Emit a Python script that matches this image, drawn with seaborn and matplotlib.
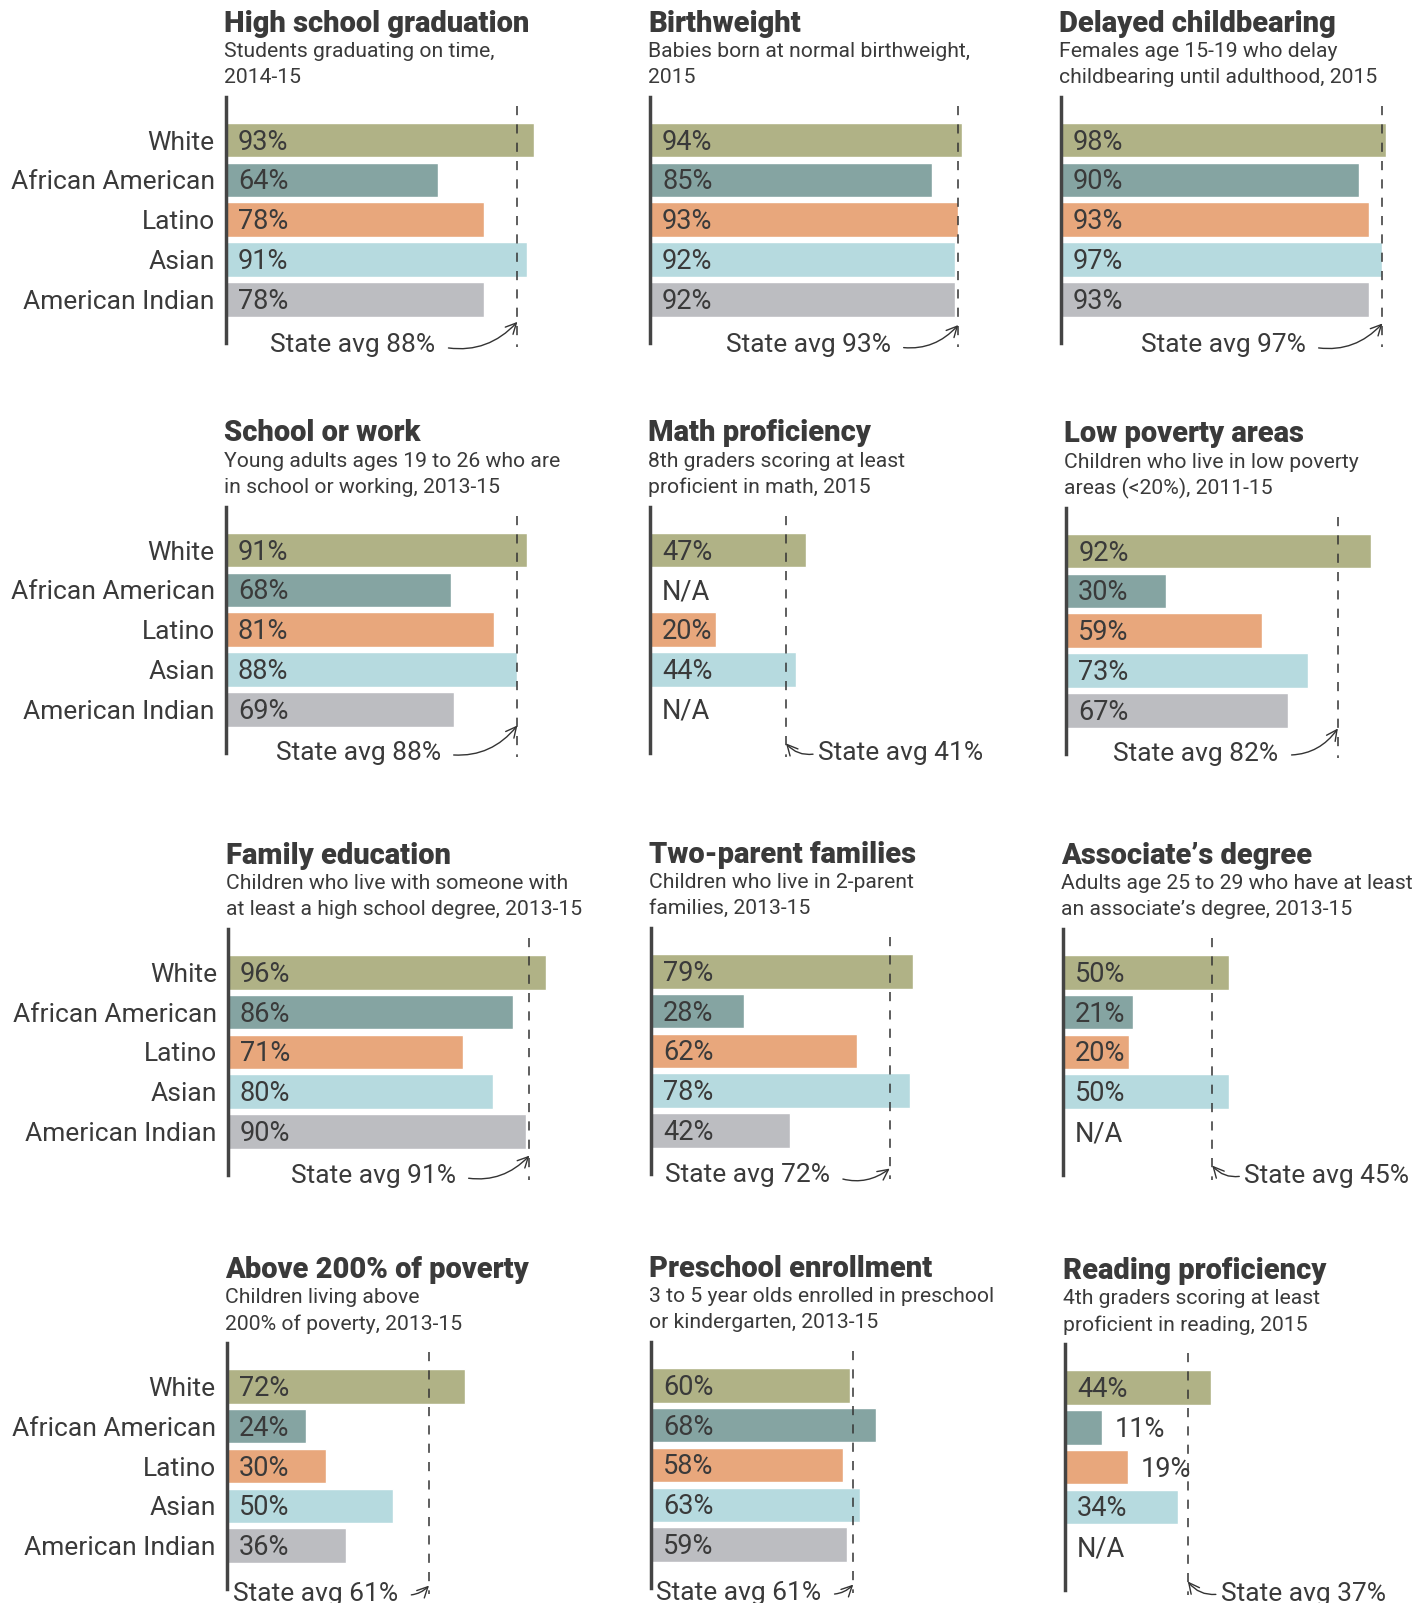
import numpy as np
import pandas as pd
import seaborn as sns
import matplotlib.pyplot as plt

sns.set_theme(style="white")
plt.rcParams['font.family'] = ['Roboto', 'DejaVu Sans']

groups = ['White', 'African American', 'Latino', 'Asian', 'American Indian']
colors = ['#b0b286', '#85a4a2', '#e8a77c', '#b6dadf', '#bcbdc1']

titles = ['High school graduation', 'Birthweight', 'Delayed childbearing',
          'School or work', 'Math proficiency', 'Low poverty areas',
          'Family education', 'Two-parent families', 'Associate\u2019s degree',
          'Above 200% of poverty', 'Preschool enrollment', 'Reading proficiency']
subtitles = ['Students graduating on time,\n2014-15',
             'Babies born at normal birthweight,\n2015',
             'Females age 15-19 who delay\nchildbearing until adulthood, 2015',
             'Young adults ages 19 to 26 who are\nin school or working, 2013-15',
             '8th graders scoring at least\nproficient in math, 2015',
             'Children who live in low poverty\nareas (<20%), 2011-15',
             'Children who live with someone with\nat least a high school degree, 2013-15',
             'Children who live in 2-parent\nfamilies, 2013-15',
             'Adults age 25 to 29 who have at least\nan associate\u2019s degree, 2013-15',
             'Children living above\n200% of poverty, 2013-15',
             '3 to 5 year olds enrolled in preschool\nor kindergarten, 2013-15',
             '4th graders scoring at least\nproficient in reading, 2015']
values = [[93, 64, 78, 91, 78],
          [94, 85, 93, 92, 92],
          [98, 90, 93, 97, 93],
          [91, 68, 81, 88, 69],
          [47, np.nan, 20, 44, np.nan],
          [92, 30, 59, 73, 67],
          [96, 86, 71, 80, 90],
          [79, 28, 62, 78, 42],
          [50, 21, 20, 50, np.nan],
          [72, 24, 30, 50, 36],
          [60, 68, 58, 63, 59],
          [44, 11, 19, 34, np.nan]]
state_avg = [88, 93, 97, 88, 41, 82, 91, 72, 45, 61, 61, 37]

# layout (reference pixels of a 1390x1568 image)
W, H = 1390, 1568
PX = 3.24      # px per percent
ROW = 39       # px per row
axis_pos = [(221, 137), (636, 137), (1038, 137),
            (221, 538), (636, 538), (1043, 539),
            (223, 951), (637, 950), (1040, 951),
            (222, 1356), (637, 1355), (1042, 1357)]
# side of label, gap px, arrow end row, text row
avg_lay = [('L', 80, 4.56, 5.15), ('L', 66, 4.64, 5.15), ('L', 75, 4.6, 5.15),
           ('L', 75, 4.4, 5.1), ('R', 31, 4.85, 5.1), ('L', 58, 4.45, 5.1),
           ('L', 72, 4.6, 5.1), ('L', 58, 4.95, 5.1), ('R', 31, 4.85, 5.1),
           ('L', 30, 5.0, 5.2), ('L', 31, 5.0, 5.2), ('R', 32, 4.87, 5.18)]

TXT = '#3a3a3a'
FS = 19
pal = dict(zip(groups, colors))

fig = plt.figure(figsize=(14.21, 16.03), dpi=100)

for i in range(12):
    x0, y0 = axis_pos[i]
    top, bot = -1.08, 5.08
    ax = fig.add_axes([x0 / W, 1 - (y0 + bot * ROW) / H,
                       100 * PX / W, (bot - top) * ROW / H])
    ax.patch.set_alpha(0)
    df = pd.DataFrame({'group': groups, 'value': values[i]})
    sns.barplot(data=df, y='group', x='value', hue='group', palette=pal,
                order=groups, hue_order=groups, legend=False, errorbar=None,
                width=0.87, saturation=1, ax=ax)
    ax.set_xlim(0, 100)
    ax.set_ylim(bot, top)
    ax.set_xlabel('')
    ax.set_ylabel('')
    ax.set_xticks([])
    for s in ['top', 'right', 'bottom']:
        ax.spines[s].set_visible(False)
    ax.spines['left'].set_color('#444444')
    ax.spines['left'].set_linewidth(2.5)
    if i % 3 == 0:
        ax.tick_params(axis='y', length=0, pad=8, labelsize=FS, labelcolor=TXT)
    else:
        ax.tick_params(axis='y', length=0, labelleft=False)

    for j, v in enumerate(values[i]):
        if np.isnan(v):
            lab, lx = 'N/A', 3.6
        elif v < 19.5:
            lab, lx = f'{v:.0f}%', v + 3.8
        else:
            lab, lx = f'{v:.0f}%', 3.6
        ax.text(lx, j + 0.05, lab, va='center', ha='left', fontsize=19.5, color=TXT)

    avg = state_avg[i]
    ax.plot([avg, avg], [-0.85, 5.2], ls=(0, (6, 6)), color='#333333', lw=1.1,
            clip_on=False)
    side, gap, end_row, txt_row = avg_lay[i]
    if side == 'L':
        ax.annotate(f'State avg {avg}%', xy=(avg, end_row),
                    xytext=(avg - gap / PX, txt_row), ha='right', va='center',
                    fontsize=FS, color=TXT, annotation_clip=False,
                    arrowprops=dict(arrowstyle='->', relpos=(1, 0.5), shrinkA=7,
                                    shrinkB=0, color='#333333', lw=1,
                                    connectionstyle='arc3,rad=0.3'))
    else:
        ax.annotate(f'State avg {avg}%', xy=(avg, end_row),
                    xytext=(avg + gap / PX, txt_row), ha='left', va='center',
                    fontsize=FS, color=TXT, annotation_clip=False,
                    arrowprops=dict(arrowstyle='->', relpos=(0, 0.5), shrinkA=1,
                                    shrinkB=0, color='#333333', lw=1,
                                    connectionstyle='arc3,rad=-0.3'))

    tx = (x0 - 2) / W
    fig.text(tx, 1 - (y0 - 114) / H, titles[i], fontsize=21, fontweight=900,
             color=TXT, ha='left', va='center')
    for k, line in enumerate(subtitles[i].split('\n')):
        fig.text(tx, 1 - (y0 - 87 + 26 * k) / H, line, fontsize=15.2,
                 color=TXT, ha='left', va='center')

fig.savefig('out.png', dpi=100)
